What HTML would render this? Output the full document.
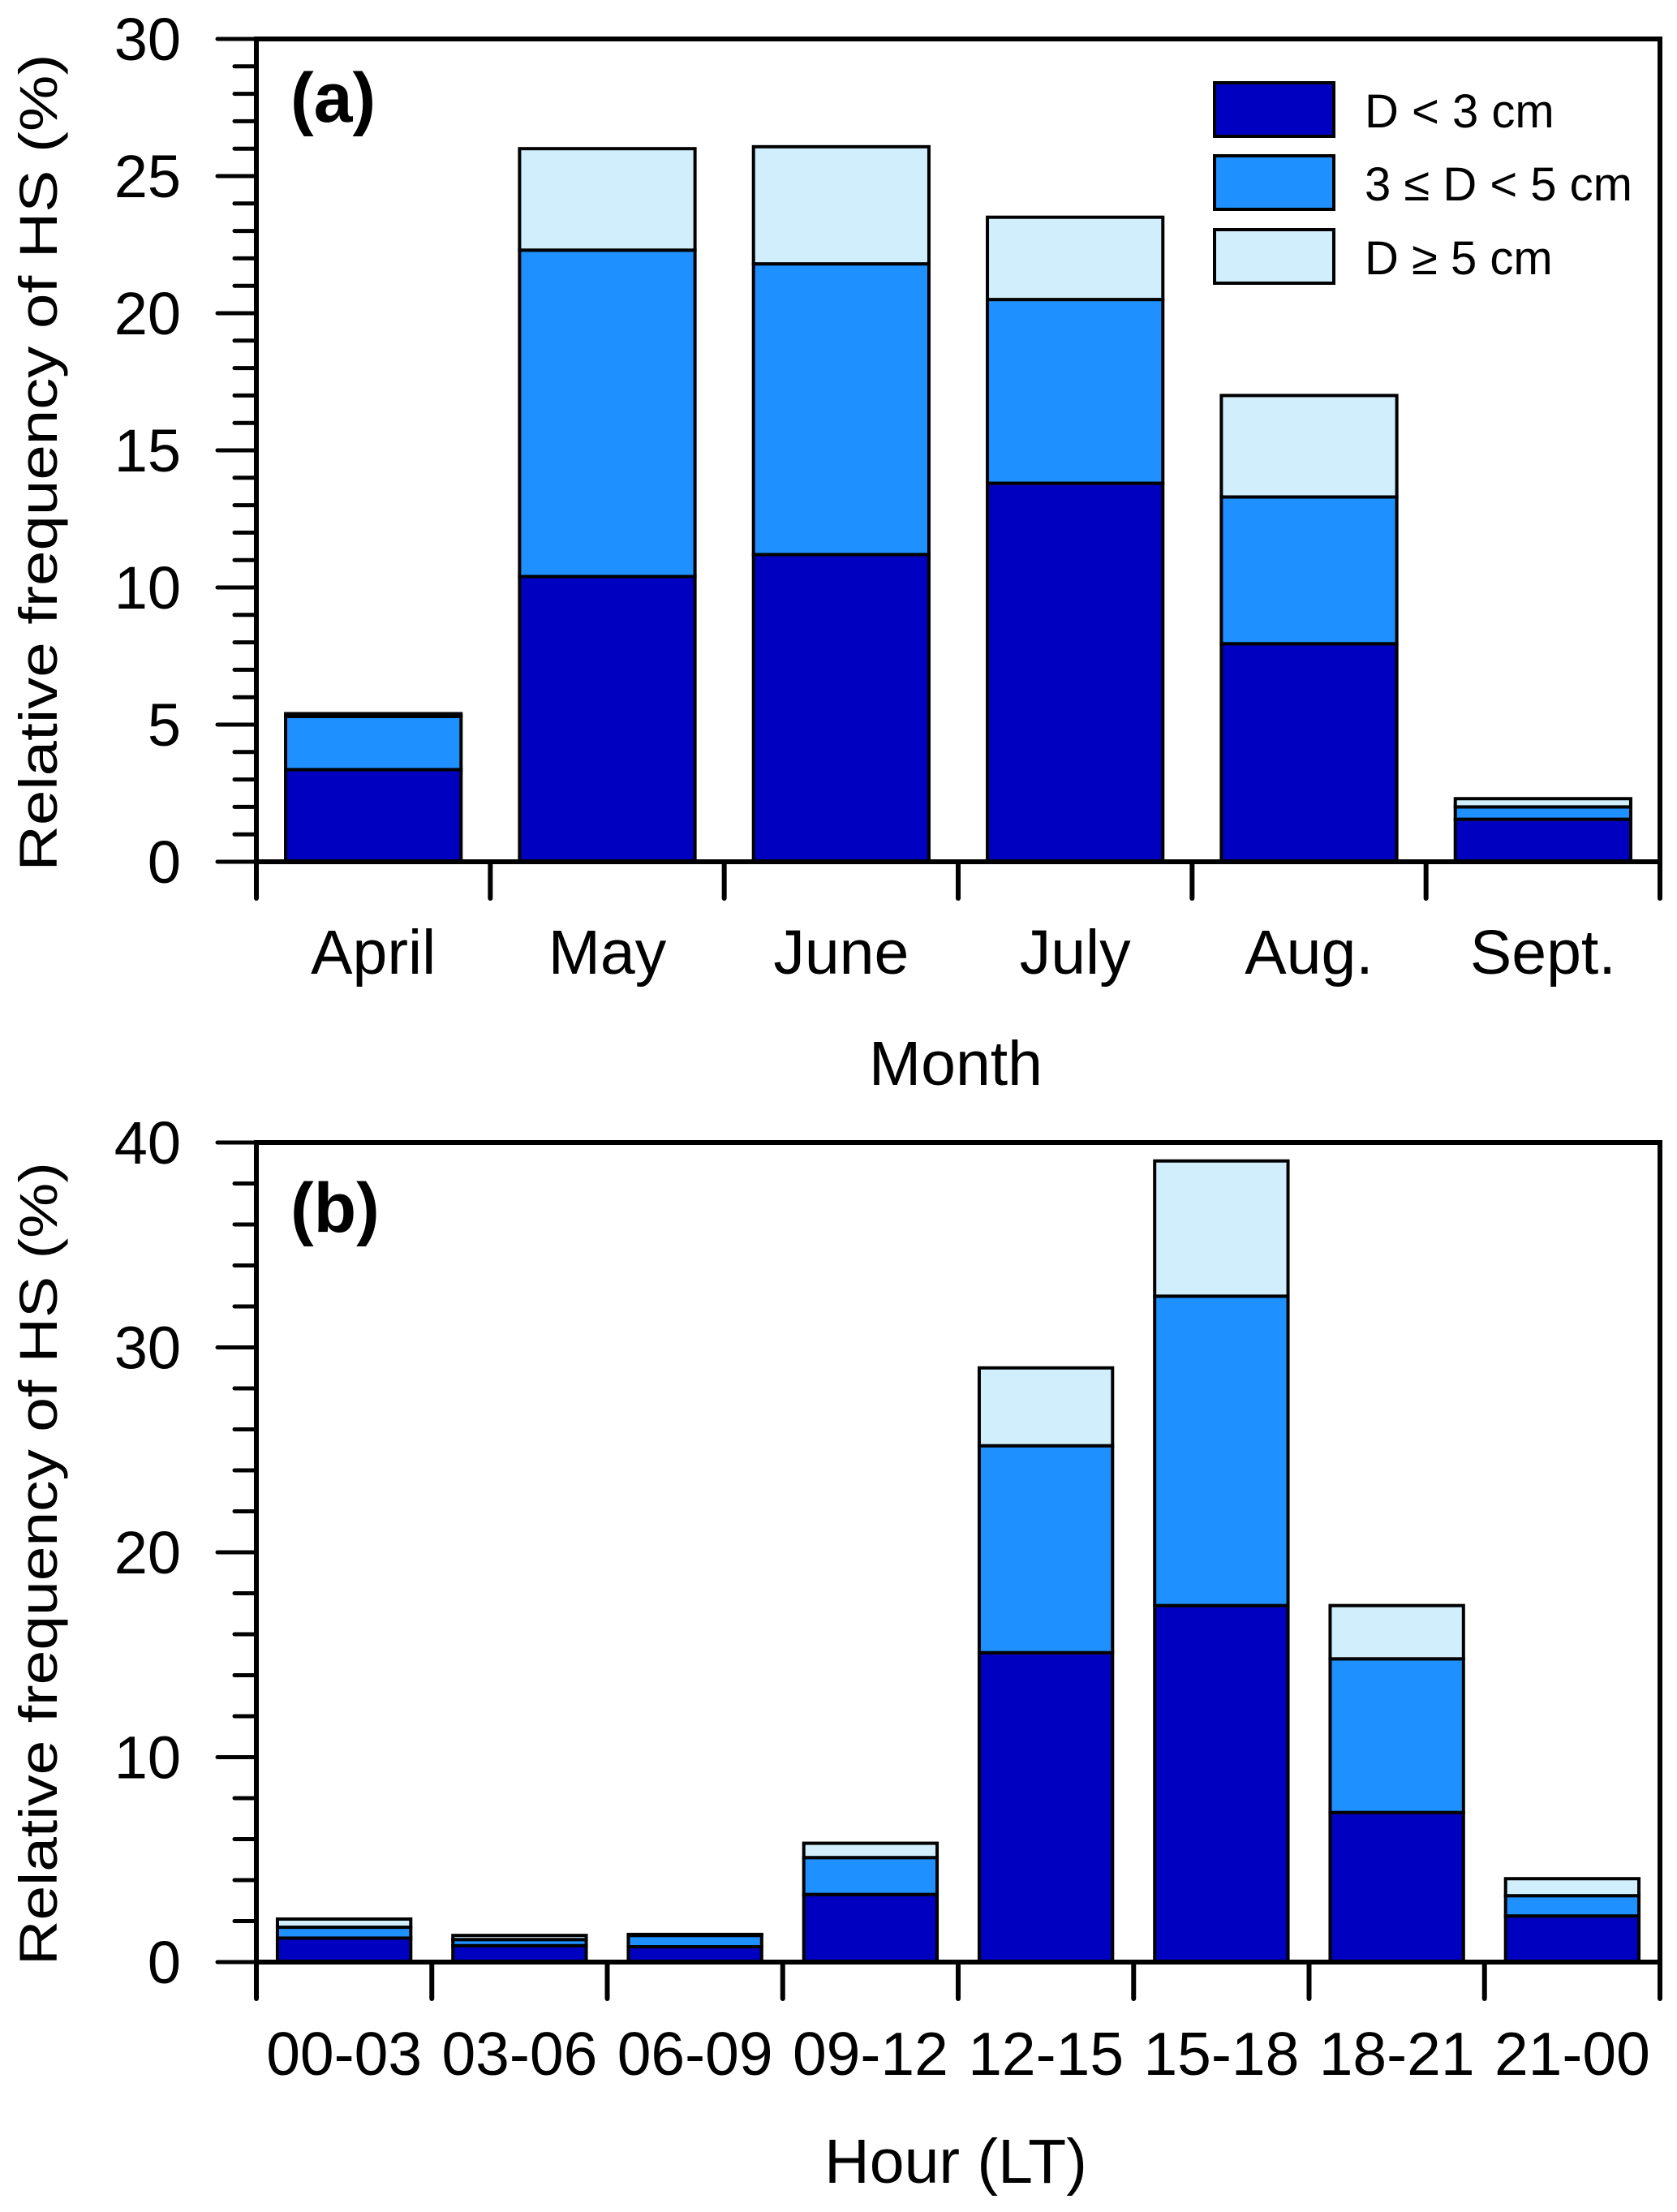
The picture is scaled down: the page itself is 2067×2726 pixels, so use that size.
<!DOCTYPE html>
<html><head><meta charset="utf-8"><style>body{margin:0;background:#fff}svg{display:block}text{font-family:"Liberation Sans",Arial,sans-serif;fill:#000}</style></head>
<body>
<svg id="chart" width="2067" height="2726" viewBox="0 0 2067 2726" xmlns="http://www.w3.org/2000/svg"></svg>
<script>
const monthCats = ["April","May","June","July","Aug.","Sept."];
const monthSmall = [3.36,10.4,11.2,13.8,7.95,1.55];
const monthMid = [1.94,11.9,10.6,6.7,5.35,0.45];
const monthLarge = [0.1,3.7,4.27,3.0,3.7,0.3];
const monthTicks = [0,5,10,15,20,25,30];
const hourCats = ["00-03","03-06","06-09","09-12","12-15","15-18","18-21","21-00"];
const hourSmall = [1.17,0.8,0.75,3.3,15.1,17.4,7.3,2.25];
const hourMid = [0.53,0.3,0.55,1.8,10.1,15.1,7.5,0.99];
const hourLarge = [0.4,0.2,0.05,0.7,3.8,6.6,2.6,0.83];
const hourTicks = [0,10,20,30,40];
const seriesNames = ["D < 3 cm","3 \u2264 D < 5 cm","D \u2265 5 cm"];
const colors = ["#0000C0","#1E90FF","#D0EEFC"];

const svg = document.getElementById('chart');
const NS = "http://www.w3.org/2000/svg";
function mk(tag, attrs, parent){const e=document.createElementNS(NS,tag);for(const k in attrs)e.setAttribute(k,attrs[k]);(parent||svg).appendChild(e);return e;}

function panel(cfg){
  const g = mk('g',{});
  
  
  const L=316,R=2046,T=cfg.top,B=cfg.zero;
  const y = v => B - (v/cfg.max)*(B-T);
  const cw = (R-L)/cfg.cats.length;
  const xc = i => L + cw*(i+0.5);
  const bw = cw*cfg.barFrac;
  const series=[cfg.s1,cfg.s2,cfg.s3];
  cfg.cats.forEach((c,i)=>{
    let base=0;
    series.forEach((s,k)=>{
      const v=s[i];
      const r=mk('rect',{x:xc(i)-bw/2,y:y(base+v),width:bw,height:Math.max(0,y(base)-y(base+v)),fill:colors[k],stroke:'#000','stroke-width':4},g);
      
      
      base+=v;
    });
    const t=mk('text',{x:xc(i),y:cfg.catY,'text-anchor':'middle','font-size':cfg.catFont},g);
    t.textContent=c;
    
    
  });
  const f=mk('rect',{x:L,y:T,width:R-L,height:B-T,fill:'none',stroke:'#000','stroke-width':6},g);
  
  
  for(let i=0;i<=cfg.cats.length;i++){
    const l=mk('line',{x1:L+cw*i,x2:L+cw*i,y1:B,y2:B+45,stroke:'#000','stroke-width':6,'stroke-linecap':'round'},g);
    
    
  }
  for(let v=0; v<=cfg.max+1e-9; v+=cfg.minor){
    const major = cfg.ticks.includes(Math.round(v*100)/100);
    const l=mk('line',{x1:major?268:289,x2:L,y1:y(v),y2:y(v),stroke:'#000','stroke-width':5,'stroke-linecap':'round'},g);
    
    
  }
  cfg.ticks.forEach(v=>{
    const t=mk('text',{x:223,y:y(v)+26,'text-anchor':'end','font-size':74},g);
    t.textContent=v;
    
    
  });
  const ty=mk('text',{x:0,y:0,'text-anchor':'middle','font-size':66,textLength:cfg.titleLen,lengthAdjust:'spacingAndGlyphs',transform:`translate(70,${cfg.titleY}) rotate(-90)`},g);
  ty.textContent=cfg.ytitle;
  
  
  const tx=mk('text',{x:1178,y:cfg.xtitleY,'text-anchor':'middle','font-size':77},g);
  tx.textContent=cfg.xtitle;
  
  
  const pl=mk('text',{x:358,y:cfg.labelY,'font-size':86,'font-weight':'bold'},g);
  pl.textContent=cfg.label;
  
  
}

panel({name:'panel-a-month',top:48,zero:1062,max:30,minor:1,ticks:monthTicks,cats:monthCats,s1:monthSmall,s2:monthMid,s3:monthLarge,barFrac:0.75,catY:1200,catFont:77,ytitle:'Relative frequency of HS  (%)',titleLen:1007,titleY:570,xtitle:'Month',xtitleY:1337,label:'(a)',labelY:150});
panel({name:'panel-b-hour',top:1408,zero:2418,max:40,minor:2,ticks:hourTicks,cats:hourCats,s1:hourSmall,s2:hourMid,s3:hourLarge,barFrac:0.76,catY:2557,catFont:75,ytitle:'Relative frequency of HS (%)',titleLen:990,titleY:1927,xtitle:'Hour (LT)',xtitleY:2690,label:'(b)',labelY:1518});

const lg = mk('g',{});


const legY=[102,192,283], legBase=[157,247,338];
seriesNames.forEach((n,k)=>{
  const r=mk('rect',{x:1497,y:legY[k],width:147,height:66,fill:colors[k],stroke:'#000','stroke-width':4},lg);
  
  
  const t=mk('text',{x:1682,y:legBase[k],'font-size':58},lg);
  t.textContent=n;
  
  
});
</script>
</body></html>
